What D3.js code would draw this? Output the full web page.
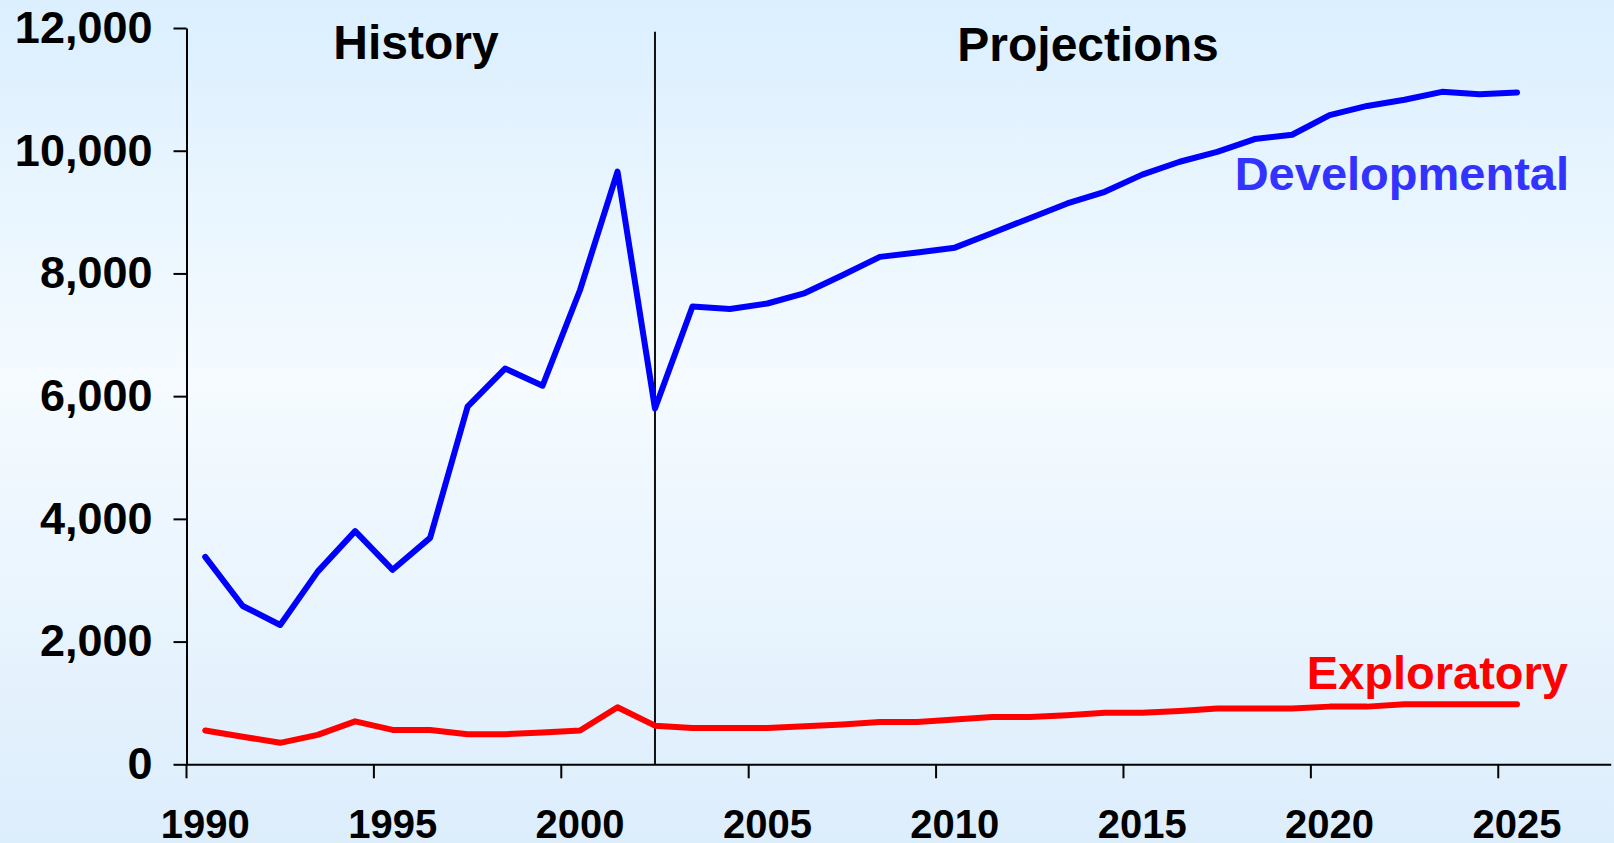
<!DOCTYPE html>
<html lang="en">
<head>
    <meta charset="UTF-8">
    <title>Developmental and Exploratory</title>
    <script src="https://d3js.org/d3.v7.min.js"></script>
    <style>
        body {
            margin: 0;
            font-family: "Liberation Sans", Arial, sans-serif;
        }
        .axis text {
            font-family: "Liberation Sans", Arial, sans-serif;
            font-weight: bold;
            fill: #000;
        }
    </style>
</head>
<body>
    <div id="chart"></div>

    <script>
        // data
        const years = d3.range(1990, 2026);
        const developmental = [3380, 2580, 2270, 3140, 3800, 3170, 3690, 5830, 6450, 6170,
                               7730, 9660, 5800, 7460, 7420, 7510, 7680, 7970, 8270, 8340,
                               8420, 8660, 8900, 9140, 9330, 9610, 9820, 9980, 10190, 10260,
                               10580, 10730, 10830, 10960, 10920, 10950];
        const exploratory = [550, 450, 350, 480, 700, 560, 560, 490, 490, 520,
                             550, 930, 630, 590, 590, 590, 620, 650, 690, 690,
                             730, 770, 770, 800, 840, 840, 870, 910, 910, 910,
                             940, 940, 980, 980, 980, 980];
        const axisYears = d3.range(1990, 2028);
        const labelYears = [1990, 1995, 2000, 2005, 2010, 2015, 2020, 2025];
        const yTicks = [0, 2000, 4000, 6000, 8000, 10000, 12000];
        const splitYear = 2002;

        const width = 1614;
        const height = 843;

        const svg = d3.select("#chart")
            .append("svg")
            .attr("width", width)
            .attr("height", height);

        // background gradient
        const grad = svg.append("defs")
            .append("linearGradient")
            .attr("id", "bg")
            .attr("x1", 0).attr("y1", 0).attr("x2", 0).attr("y2", 1);
        grad.append("stop").attr("offset", "0%").attr("stop-color", "#dbeffe");
        grad.append("stop").attr("offset", "45%").attr("stop-color", "#f5fbff");
        grad.append("stop").attr("offset", "100%").attr("stop-color", "#dcedfc");

        svg.append("rect")
            .attr("width", width)
            .attr("height", height)
            .attr("fill", "url(#bg)");

        const x = d3.scaleBand()
            .domain(axisYears)
            .range([186.5, 1610.7])
            .padding(0);
        const bw = x.bandwidth();
        const cx = yr => x(yr) + bw / 2;

        const y = d3.scaleLinear()
            .domain([0, 12000])
            .range([764.3, 28]);

        // x axis: ticks sit between categories, labels centred
        const xAxis = svg.append("g")
            .attr("class", "axis")
            .attr("transform", `translate(0,${y(0)})`)
            .call(d3.axisBottom(x)
                .tickValues(labelYears)
                .tickSizeInner(14)
                .tickSizeOuter(0)
                .tickPadding(31));
        xAxis.selectAll(".tick line")
            .attr("transform", `translate(${-bw / 2},0)`);
        xAxis.selectAll("text").style("font-size", "40px");
        xAxis.selectAll("path, line").attr("stroke", "#000").attr("stroke-width", 2);

        const yAxis = svg.append("g")
            .attr("class", "axis")
            .attr("transform", `translate(${x.range()[0]},0)`)
            .call(d3.axisLeft(y)
                .tickValues(yTicks)
                .tickFormat(d3.format(","))
                .tickSizeInner(13)
                .tickSizeOuter(0)
                .tickPadding(21));
        yAxis.selectAll("text").style("font-size", "45px");
        yAxis.selectAll("path, line").attr("stroke", "#000").attr("stroke-width", 2);

        // history / projections divider
        svg.append("line")
            .attr("x1", cx(splitYear)).attr("x2", cx(splitYear))
            .attr("y1", 31.7).attr("y2", y(0))
            .attr("stroke", "#111")
            .attr("stroke-width", 2);

        const line = d3.line()
            .x(d => cx(d[0]))
            .y(d => y(d[1]));

        const series = [
            {name: "Developmental", values: developmental, color: "#0000ff"},
            {name: "Exploratory", values: exploratory, color: "#ff0000"}
        ];

        svg.selectAll(".series")
            .data(series)
            .join("path")
            .attr("class", "series")
            .attr("d", s => line(years.map((yr, i) => [yr, s.values[i]])))
            .attr("fill", "none")
            .attr("stroke", s => s.color)
            .attr("stroke-width", 6)
            .attr("stroke-linejoin", "round")
            .attr("stroke-linecap", "round");

        // labels
        const labels = [
            {text: "History", x: 416, y: 59, anchor: "middle", color: "#000", size: 48},
            {text: "Projections", x: 1088, y: 61, anchor: "middle", color: "#000", size: 48},
            {text: "Developmental", x: 1569, y: 190, anchor: "end", color: "#3333ff", size: 47},
            {text: "Exploratory", x: 1568, y: 689, anchor: "end", color: "#ff0000", size: 47}
        ];

        svg.selectAll(".label")
            .data(labels)
            .join("text")
            .attr("class", "label")
            .attr("x", d => d.x)
            .attr("y", d => d.y)
            .attr("text-anchor", d => d.anchor)
            .attr("fill", d => d.color)
            .style("font-size", d => d.size + "px")
            .style("font-weight", "bold")
            .text(d => d.text);
    </script>
</body>
</html>
